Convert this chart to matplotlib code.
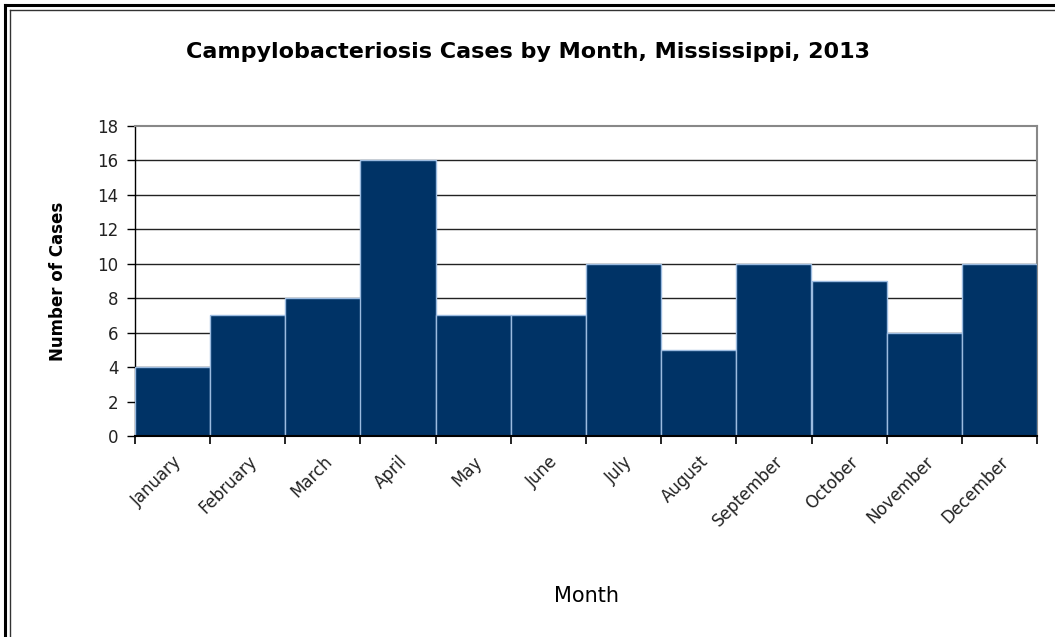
import matplotlib
matplotlib.use("Agg")
import matplotlib.pyplot as plt
from matplotlib.lines import Line2D
import numpy as np

months = ["January", "February", "March", "April", "May", "June", "July",
          "August", "September", "October", "November", "December"]
cases = [4, 7, 8, 16, 7, 7, 10, 5, 10, 9, 6, 10]
yticks = [0, 2, 4, 6, 8, 10, 12, 14, 16, 18]

plt.rcParams['font.family'] = ['DejaVu Sans']

fig = plt.figure(figsize=(10.55, 6.37), dpi=100)
ax = fig.add_axes([135/1055, 1-436/637, (1037-135)/1055, (436-126)/637])

x = np.arange(len(months))
ax.bar(x, cases, width=1.0, color="#003366", edgecolor="#9bbbe0", linewidth=1.0, zorder=3)
ax.set_xlim(-0.5, len(months)-0.5)
ax.set_ylim(0, 18)
ax.set_yticks(yticks)
ax.yaxis.grid(True, color="#222222", linewidth=1.0, zorder=0)
ax.set_axisbelow(True)
ax.spines["top"].set_color("#888888")
ax.spines["right"].set_color("#888888")
ax.spines["top"].set_linewidth(1.5)
ax.spines["right"].set_linewidth(1.5)
ax.spines["left"].set_linewidth(1.0)
ax.spines["bottom"].set_linewidth(1.5)
ax.spines["bottom"].set_zorder(4)
gl = ax.get_ygridlines()
gl[-1].set_visible(False)

ax.set_xticks(x)
ax.set_xticklabels(months, rotation=45, ha="right", rotation_mode="anchor", fontsize=12, color="#222222")
ax.set_xticks(np.arange(-0.5, len(months)), minor=True)
ax.tick_params(axis="x", which="major", length=0, pad=12)
ax.tick_params(axis="x", which="minor", length=6, width=1.2, direction="out")
ax.tick_params(axis="y", length=6, width=1.0, labelsize=12, labelcolor="#222222", pad=6)

ax.set_ylabel("Number of Cases", fontsize=12, fontweight="bold", labelpad=22)
ax.set_xlabel("Month", fontsize=15, labelpad=40)
fig.text(528/1055, 1-52/637, "Campylobacteriosis Cases by Month, Mississippi, 2013",
         ha="center", va="center", fontsize=16, fontweight="bold")

# double frame on left and top
W, H = 1055, 637
for off, lw, c in [(5, 2.2, "black"), (9.5, 1.0, "#333333")]:
    fig.add_artist(Line2D([off/W, off/W], [0, 1-off/H], transform=fig.transFigure, color=c, lw=lw))
    fig.add_artist(Line2D([off/W, 1], [1-off/H, 1-off/H], transform=fig.transFigure, color=c, lw=lw))

fig.savefig("out.png", dpi=100)
